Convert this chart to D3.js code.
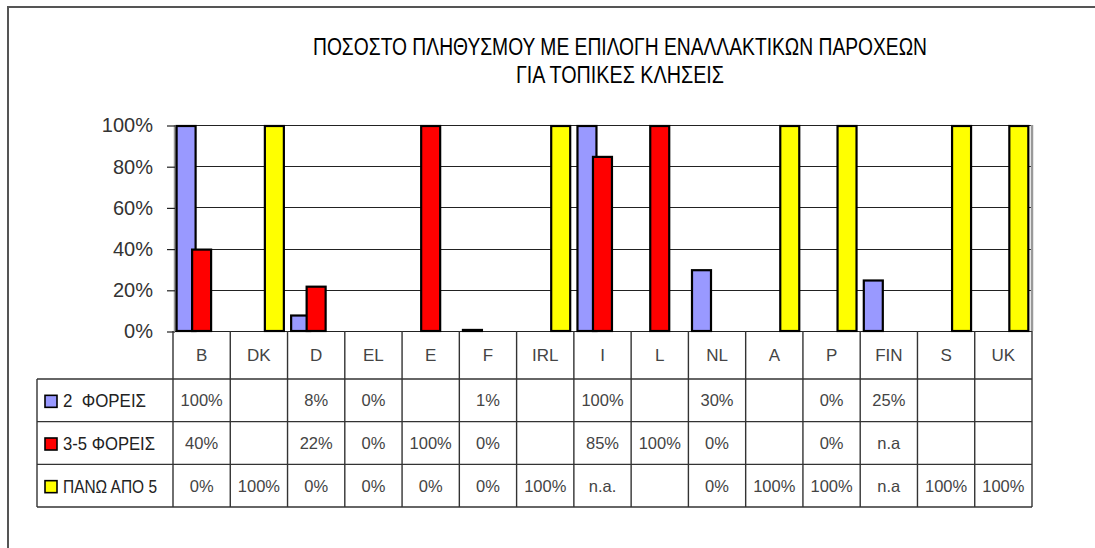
<!DOCTYPE html>
<html>
<head>
<meta charset="utf-8">
<script src="https://cdnjs.cloudflare.com/ajax/libs/d3/7.8.5/d3.min.js"></script>
<style>
  body { margin: 0; background: #fff; }
  svg { display: block; font-family: "Liberation Sans", Arial, sans-serif; }
</style>
</head>
<body>
<svg id="chart" width="1095" height="548"></svg>
<script>
// --- data ---
var titleLines = ["ΠΟΣΟΣΤΟ ΠΛΗΘΥΣΜΟΥ ΜΕ ΕΠΙΛΟΓΗ ΕΝΑΛΛΑΚΤΙΚΩΝ ΠΑΡΟΧΕΩΝ", "ΓΙΑ ΤΟΠΙΚΕΣ ΚΛΗΣΕΙΣ"];
var categories = ["B", "DK", "D", "EL", "E", "F", "IRL", "I", "L", "NL", "A", "P", "FIN", "S", "UK"];
var seriesNames = ["2  ΦΟΡΕΙΣ", "3-5 ΦΟΡΕΙΣ", "ΠΑΝΩ ΑΠΟ 5"];
var seriesColors = ["#9999ff", "#ff0000", "#ffff00"];
// null = blank cell, strings = text shown in table only
var twoCarriers   = [100, null, 8, 0, null, 1, null, 100, null, 30, null, 0, 25, null, null];
var threeToFive   = [40, null, 22, 0, 100, 0, null, 85, 100, 0, null, 0, "n.a", null, null];
var overFive      = [0, 100, 0, 0, 0, 0, 100, "n.a.", null, 0, 100, 100, "n.a", 100, 100];
var yTicks = [0, 20, 40, 60, 80, 100];

var series = [twoCarriers, threeToFive, overFive];

var svg = d3.select("#chart");

// outer frame
svg.append("path")
  .attr("d", "M8,548 V7 H1095")
  .attr("fill", "none")
  .attr("stroke", "#555")
  .attr("stroke-width", 2);

// title (squeezed to look like the condensed face of the picture)
svg.selectAll("text.title")
  .data(titleLines)
  .enter().append("text")
  .attr("class", "title")
  .attr("x", 620)
  .attr("y", (d, i) => 55 + i * 28)
  .attr("text-anchor", "middle")
  .attr("font-family", "'Liberation Sans Narrow', 'Liberation Sans', Arial, sans-serif")
  .attr("font-size", 23)
  .attr("textLength", (d, i) => i == 0 ? 614 : 208)
  .attr("lengthAdjust", "spacingAndGlyphs")
  .attr("fill", "#000")
  .text(d => d);

var plot = {left: 173, right: 1032, top: 125, bottom: 331};

var x = d3.scaleBand()
  .domain(categories)
  .range([plot.left, plot.right]);

var y = d3.scaleLinear()
  .domain([0, 100])
  .range([plot.bottom, plot.top]);

var cw = x.bandwidth();
var barW = 21;
// overlapping bars within each category
var off = d3.scaleLinear()
  .domain([0, 2])
  .range([2.6, 2.6 + 31]);

// gridlines
svg.append("g")
  .selectAll("line")
  .data(yTicks)
  .enter().append("line")
  .attr("x1", plot.left + 2)
  .attr("x2", plot.right)
  .attr("y1", d => Math.round(y(d)) + 0.5)
  .attr("y2", d => Math.round(y(d)) + 0.5)
  .attr("stroke", "#222")
  .attr("stroke-width", 1.2);

// plot-area side edges
svg.append("g")
  .selectAll("line")
  .data([plot.left + 2, plot.right])
  .enter().append("line")
  .attr("x1", d => d).attr("x2", d => d)
  .attr("y1", plot.top).attr("y2", plot.bottom)
  .attr("stroke", "#999")
  .attr("stroke-width", 2.5);

// y axis
var ay = d3.axisLeft(y)
  .tickValues(yTicks)
  .tickFormat(d => d + "%")
  .tickSize(8)
  .tickPadding(14);

var gy = svg.append("g")
  .attr("transform", `translate(${plot.left + 2}, 0.5)`)
  .call(ay);
gy.select(".domain").remove();
gy.selectAll(".tick line").attr("stroke", "#222").attr("stroke-width", 1.2);
gy.selectAll(".tick text")
  .attr("font-size", 20)
  .attr("font-family", "'Liberation Sans', Arial, sans-serif")
  .attr("fill", "#333");

// bars
series.forEach(function(vals, si) {
  var data = categories.map((c, i) => ({cat: c, v: vals[i]}))
    .filter(d => typeof d.v === "number" && d.v > 0);
  svg.append("g")
    .selectAll("rect")
    .data(data)
    .enter().append("rect")
    .attr("x", d => x(d.cat) + off(si) + 1)
    .attr("width", barW - 2)
    .attr("y", d => y(d.v) + 1)
    .attr("height", d => Math.max(0, y(0) - y(d.v) - 1))
    .attr("fill", seriesColors[si])
    .attr("stroke", "#000")
    .attr("stroke-width", 2.2);
});

// data table
var tbl = {left: 37, header: 331, top: 379, bottom: 507};
var rowY = d3.scaleBand()
  .domain(d3.range(series.length))
  .range([tbl.top, tbl.bottom]);

var table = svg.append("g")
  .attr("stroke", "#333")
  .attr("stroke-width", 1.4);

// horizontal rules
table.selectAll("line.h")
  .data(d3.range(series.length + 1))
  .enter().append("line")
  .attr("x1", tbl.left).attr("x2", plot.right)
  .attr("y1", i => rowY(i) === undefined ? tbl.bottom : rowY(i))
  .attr("y2", i => rowY(i) === undefined ? tbl.bottom : rowY(i));

// vertical rules
table.selectAll("line.v")
  .data(categories.concat(["_end"]))
  .enter().append("line")
  .attr("x1", d => d == "_end" ? plot.right : x(d))
  .attr("x2", d => d == "_end" ? plot.right : x(d))
  .attr("y1", tbl.header)
  .attr("y2", tbl.bottom);

table.append("line")
  .attr("x1", tbl.left).attr("x2", tbl.left)
  .attr("y1", tbl.top).attr("y2", tbl.bottom);

// category labels
svg.append("g")
  .selectAll("text")
  .data(categories)
  .enter().append("text")
  .attr("x", d => x(d) + cw / 2)
  .attr("y", (tbl.header + tbl.top) / 2 + 6)
  .attr("text-anchor", "middle")
  .attr("font-size", 17)
  .attr("fill", "#444")
  .text(d => d);

// table values
series.forEach(function(vals, si) {
  svg.append("g")
    .selectAll("text")
    .data(categories.map((c, i) => ({cat: c, v: vals[i]})).filter(d => d.v !== null))
    .enter().append("text")
    .attr("x", d => x(d.cat) + cw / 2)
    .attr("y", rowY(si) + rowY.bandwidth() / 2 + 6)
    .attr("text-anchor", "middle")
    .attr("font-size", 16.5)
    .attr("fill", "#444")
    .text(d => typeof d.v === "number" ? d.v + "%" : d.v);
});

// legend keys + names
var leg = svg.append("g");
leg.selectAll("rect")
  .data(seriesNames)
  .enter().append("rect")
  .attr("x", 45)
  .attr("y", (d, i) => rowY(i) + rowY.bandwidth() / 2 - 5)
  .attr("width", 12)
  .attr("height", 12)
  .attr("fill", (d, i) => seriesColors[i])
  .attr("stroke", "#000")
  .attr("stroke-width", 1.6);

leg.selectAll("text")
  .data(seriesNames)
  .enter().append("text")
  .attr("x", 63)
  .attr("y", (d, i) => rowY(i) + rowY.bandwidth() / 2 + 7)
  .attr("font-size", 18)
  .attr("textLength", (d, i) => [83, 92, 94][i])
  .attr("lengthAdjust", "spacingAndGlyphs")
  .attr("fill", "#222")
  .attr("xml:space", "preserve")
  .style("white-space", "pre")
  .text(d => d);
</script>
</body>
</html>
